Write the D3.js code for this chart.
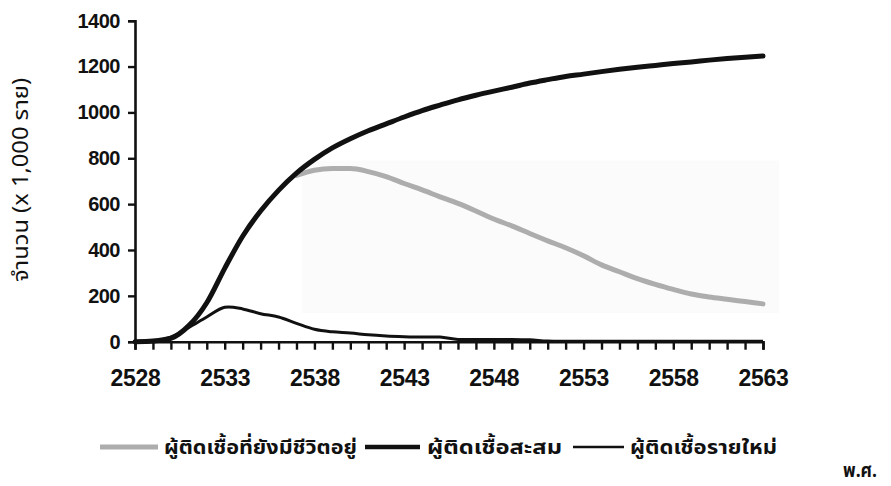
<!DOCTYPE html>
<html>
<head>
<meta charset="utf-8">
<script src="https://cdn.jsdelivr.net/npm/d3@7"></script>
<style>
  html, body { margin: 0; padding: 0; background: #fff; }
  svg { display: block; }
</style>
</head>
<body>
<svg id="chart" width="891" height="486"></svg>
<script>
// ---- data ----
const years = d3.range(2528, 2564);
const xTickLabels = [2528, 2533, 2538, 2543, 2548, 2553, 2558, 2563];
const yTickValues = [0, 200, 400, 600, 800, 1000, 1200, 1400];

// ผู้ติดเชื้อสะสม (cumulative), 2528-2563
const cumulative = [0, 3, 15, 70, 170, 320, 460, 570, 660, 735, 795, 845, 885, 920, 950, 980,
  1008, 1032, 1055, 1075, 1093, 1110, 1128, 1143, 1157, 1167, 1178, 1188, 1197, 1205, 1213,
  1220, 1228, 1235, 1241, 1246];

// ผู้ติดเชื้อรายใหม่ (new), 2528-2563
const newInfections = [0, 2, 20, 62, 108, 150, 143, 122, 108, 80, 54, 43, 38, 30, 25, 22,
  20, 20, 10, 10, 10, 10, 8, 3, 2, 2, 2, 2, 2, 2, 2, 2, 2, 2, 2, 2];

// ผู้ติดเชื้อที่ยังมีชีวิตอยู่ (living), 2537-2563
const livingYears = d3.range(2537, 2564);
const living = [725, 748, 755, 755, 742, 720, 690, 662, 632, 603, 570, 535, 505, 472, 440,
  410, 375, 335, 305, 275, 250, 228, 208, 195, 185, 175, 165];

const legendNames = ["ผู้ติดเชื้อที่ยังมีชีวิตอยู่", "ผู้ติดเชื้อสะสม", "ผู้ติดเชื้อรายใหม่"];
const yTitle = "จำนวน (x 1,000 ราย)";
const xTitle = "พ.ศ.";

// ---- layout ----
const svg = d3.select("#chart");
const x = d3.scaleLinear().domain([2528, 2563]).range([135, 763]);
const y = d3.scaleLinear().domain([0, 1400]).range([341.7, 20.7]);

const thaiFont = "'Noto Sans Thai', 'Noto Sans Thai UI', Tahoma, 'Liberation Sans', sans-serif";

// faint box behind living curve (scan artifact)
svg.append("rect")
  .attr("x", x(2537.3)).attr("y", y(790))
  .attr("width", x(2563.9) - x(2537.3)).attr("height", y(125) - y(790))
  .attr("fill", "#fbfbfb");

// axes
const yAxis = d3.axisLeft(y).tickValues(yTickValues).tickSize(7).tickPadding(8).tickFormat(d3.format("d"));
const gy = svg.append("g").attr("transform", "translate(135,0)").call(yAxis);
gy.select(".domain").attr("stroke", "#111").attr("stroke-width", 2.6);
gy.selectAll(".tick line").attr("stroke", "#111").attr("stroke-width", 2.4);
gy.selectAll(".tick text")
  .attr("font-family", "'Liberation Sans', Arial, sans-serif")
  .attr("font-weight", "bold").attr("font-size", 20).attr("fill", "#111")
  .attr("letter-spacing", -0.5);

const xAxis = d3.axisBottom(x).tickValues(years).tickSize(8).tickPadding(20)
  .tickFormat(d => xTickLabels.includes(d) ? String(d) : "");
const gx = svg.append("g").attr("transform", "translate(0,341.7)").call(xAxis);
gx.select(".domain").attr("stroke", "#111").attr("stroke-width", 2.6);
gx.selectAll(".tick line").attr("stroke", "#111").attr("stroke-width", 2.4);
gx.selectAll(".tick text")
  .attr("font-family", "'Liberation Sans', Arial, sans-serif")
  .attr("font-weight", "bold").attr("font-size", 23).attr("fill", "#111")
  .attr("letter-spacing", -0.3);

// lines
const line = d3.line().curve(d3.curveMonotoneX);
const smooth = d3.line().curve(d3.curveCatmullRom.alpha(0.5));

svg.append("path")
  .attr("d", line(livingYears.map((yr, i) => [x(yr), y(living[i])])))
  .attr("fill", "none").attr("stroke", "#adadad").attr("stroke-width", 5)
  .attr("stroke-linecap", "round");

svg.append("path")
  .attr("d", smooth(years.map((yr, i) => [x(yr), y(newInfections[i])])))
  .attr("fill", "none").attr("stroke", "#111").attr("stroke-width", 3)
  .attr("stroke-linejoin", "round");

svg.append("path")
  .attr("d", line(years.map((yr, i) => [x(yr), y(cumulative[i])])))
  .attr("fill", "none").attr("stroke", "#111").attr("stroke-width", 5)
  .attr("stroke-linecap", "round").attr("stroke-linejoin", "round");

// y title
svg.append("text")
  .attr("transform", "translate(20,180) rotate(-90)")
  .attr("text-anchor", "middle")
  .attr("dy", "0.35em")
  .attr("font-family", thaiFont)
  .attr("font-size", 22).attr("fill", "#111")
  .attr("textLength", 204).attr("lengthAdjust", "spacingAndGlyphs")
  .text(yTitle);

// legend
const legendItems = [
  { name: legendNames[0], color: "#adadad", width: 5, x0: 100, x1: 158, tx: 164, tw: 193 },
  { name: legendNames[1], color: "#111", width: 4.5, x0: 365, x1: 420, tx: 427, tw: 135 },
  { name: legendNames[2], color: "#111", width: 2.5, x0: 573, x1: 624, tx: 630, tw: 147 }
];
const lg = svg.append("g");
legendItems.forEach(it => {
  lg.append("line").attr("x1", it.x0).attr("x2", it.x1).attr("y1", 447).attr("y2", 447)
    .attr("stroke", it.color).attr("stroke-width", it.width);
  lg.append("text").attr("x", it.tx).attr("y", 447).attr("dy", "0.35em")
    .attr("font-family", thaiFont).attr("font-weight", "bold")
    .attr("font-size", 20).attr("fill", "#111")
    .attr("textLength", it.tw).attr("lengthAdjust", "spacingAndGlyphs")
    .text(it.name);
});

svg.append("text").attr("x", 843).attr("y", 470).attr("dy", "0.35em")
  .attr("font-family", thaiFont).attr("font-weight", "bold")
  .attr("font-size", 20).attr("fill", "#111")
  .attr("textLength", 34).attr("lengthAdjust", "spacingAndGlyphs")
  .text(xTitle);
</script>
</body>
</html>
